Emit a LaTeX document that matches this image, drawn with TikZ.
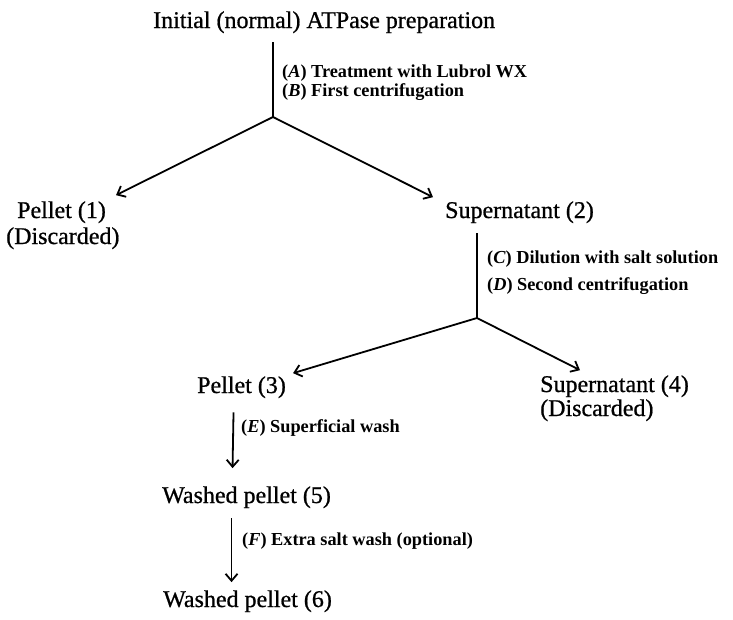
\documentclass[tikz,border=0pt]{standalone}
\usepackage{fontspec}
\setmainfont{Liberation Serif}
\newfontfamily\prodfont[FakeBold=0.8]{Liberation Serif}
\usepackage{tikz}
\usetikzlibrary{arrows.meta}
\tikzset{tratto/.style={line width=1.8pt}}
\tikzset{freccia/.style={line width=1.8pt, -{Straight Barb[length=7pt,width=12pt]}}}
\tikzset{prodotto/.style={font=\prodfont\fontsize{24}{28}\selectfont}}
\tikzset{passo/.style={font=\fontsize{18.3}{22}\selectfont\bfseries}}

\begin{document}
\begin{tikzpicture}[
                x=1pt, y=-1pt,
                every node/.style={inner sep=0pt, anchor=base west}
            ]
                \useasboundingbox (0,0) rectangle (733,619);
                % prodotti
                \node[prodotto](init) at (153,28) {Initial (normal) ATPase preparation};
                \node[prodotto](pel1) at (17,218) {Pellet (1)};
                \node[prodotto](disc1) at (6,244) {(Discarded)};
                \node[prodotto](sup2) at (445,218) {Supernatant (2)};
                \node[prodotto](pel3) at (197,393) {Pellet (3)};
                \node[prodotto](sup4) at (540,392) {Supernatant (4)};
                \node[prodotto](disc4) at (540,416) {(Discarded)};
                \node[prodotto](wpel5) at (162,503) {Washed pellet (5)};
                \node[prodotto](wpel6) at (163,607) {Washed pellet (6)};
                % passi
                \node[passo](stepA) at (282,77) {(\textit{A}) Treatment with Lubrol WX};
                \node[passo](stepB) at (282,96) {(\textit{B}) First centrifugation};
                \node[passo](stepC) at (487,263) {(\textit{C}) Dilution with salt solution};
                \node[passo](stepD) at (487,290) {(\textit{D}) Second centrifugation};
                \node[passo](stepE) at (241,432) {(\textit{E}) Superficial wash};
                \node[passo](stepF) at (242,545) {(\textit{F}) Extra salt wash (optional)};
                % biforcazioni
                \coordinate (j1) at (273,117);
                \coordinate (j2) at (477,318);

                \draw[tratto, shorten <=9pt] (init.south -| j1) -- (j1);
                \draw[freccia] (j1) -- ([shift={(10,-6)}]pel1.north east);
                \draw[freccia] (j1) -- ([shift={(-12,-4)}]sup2.north west);
                \draw[tratto, shorten <=10pt] (sup2.south -| j2) -- (j2);
                \draw[freccia] (j2) -- ([shift={(7,-3)}]pel3.north east);
                \draw[freccia] (j2) -- ([shift={(40,-5)}]sup4.north west);
                \draw[freccia] ([shift={(-8,14)}]pel3.south) -- ([shift={(-14,-18)}]wpel5.north);
                \draw[freccia] ([shift={(-15,10)}]wpel5.south) -- ([shift={(-16,-8)}]wpel6.north);
            \end{tikzpicture}
\end{document}
